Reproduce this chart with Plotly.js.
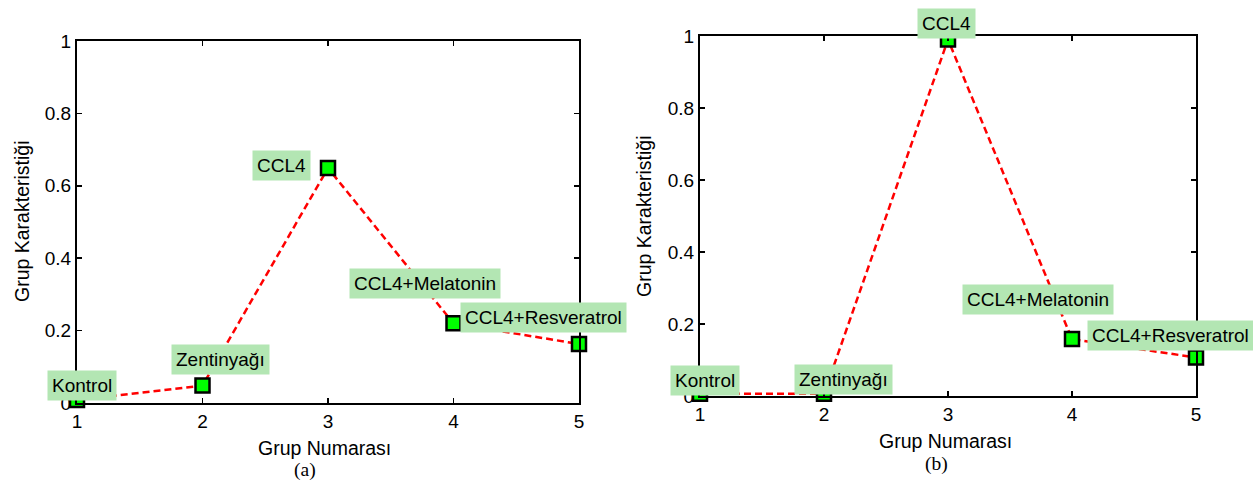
<!DOCTYPE html>
<html>
<head>
<meta charset="utf-8">
<script src="https://cdn.plot.ly/plotly-3.0.1.min.js"></script>
<style>html,body{margin:0;padding:0;background:#fff;}#chart{width:1253px;height:483px;}</style>
</head>
<body>
<div id="chart"></div>
<script>
// ---- data ----
const groups = [1, 2, 3, 4, 5];
const groupLabels = ['Kontrol', 'Zentinyağı', 'CCL4', 'CCL4+Melatonin', 'CCL4+Resveratrol'];
const valuesA = [0.008, 0.048, 0.649, 0.220, 0.163];
const valuesB = [0.006, 0.006, 0.99, 0.158, 0.107];
const xTickVals = [1, 2, 3, 4, 5];
const xTickText = ['1', '2', '3', '4', '5'];
const yTickVals = [0, 0.2, 0.4, 0.6, 0.8, 1];
const yTickText = ['0', '0.2', '0.4', '0.6', '0.8', '1'];
const xTitle = 'Grup Numarası';
const yTitle = 'Grup Karakteristiği';
const panelTitles = ['(a)', '(b)'];

// ---- style ----
const W = 1253, H = 483;
const FONT = 'Liberation Sans, Arial, sans-serif';
const labelShiftA = [[5, 15], [18, 26], [-47, 2.5], [-29, 40], [-36, 26.5]];
const labelShiftB = [[5, 13], [19.5, 14.7], [-2, 16], [-34, 40], [-26, 22]];

function px(x) { return x / W; }
function py(y) { return 1 - y / H; }

function mkTrace(vals, xa, ya) {
  return {
    x: groups, y: vals, xaxis: xa, yaxis: ya,
    type: 'scatter', mode: 'lines+markers', cliponaxis: false,
    line: {color: '#ff0000', width: 2.5, dash: '7px,4px'},
    marker: {symbol: 'square', size: 14, color: '#00ff00', line: {color: '#000', width: 2.5}},
    hoverinfo: 'skip'
  };
}

function mkAxis(domain, isX, anchor) {
  const ax = {
    domain: domain, anchor: anchor,
    showline: true, linecolor: '#000', linewidth: 2, mirror: 'ticks',
    ticks: 'inside', ticklen: 5, tickwidth: 1.5, tickcolor: '#000',
    showgrid: false, zeroline: false, fixedrange: true,
    tickfont: {family: FONT, size: 19, color: '#000'}
  };
  if (isX) {
    ax.range = [1, 5]; ax.tickmode = 'array'; ax.tickvals = xTickVals; ax.ticktext = xTickText;
  } else {
    ax.range = [0, 1]; ax.tickmode = 'array'; ax.tickvals = yTickVals; ax.ticktext = yTickText;
  }
  return ax;
}

const annotations = [];
function addLabels(vals, shifts, xr, yr) {
  groups.forEach((g, i) => {
    annotations.push({
      x: g, y: vals[i], xref: xr, yref: yr, showarrow: false,
      xanchor: 'center', yanchor: 'middle',
      xshift: shifts[i][0], yshift: shifts[i][1],
      text: groupLabels[i], bgcolor: '#b3e6b3', borderpad: 4,
      font: {family: FONT, size: 19, color: '#000'}
    });
  });
}
addLabels(valuesA, labelShiftA, 'x', 'y');
addLabels(valuesB, labelShiftB, 'x2', 'y2');

function addText(text, x, y, opts) {
  annotations.push(Object.assign({
    text: text, x: px(x), y: py(y), xref: 'paper', yref: 'paper', showarrow: false,
    xanchor: 'center', yanchor: 'middle',
    font: {family: FONT, size: 19.5, color: '#000'}
  }, opts || {}));
}
addText(xTitle, 324.5, 448);
addText(xTitle, 945, 441);
addText(yTitle, 22, 222, {textangle: -90});
addText(yTitle, 644, 217, {textangle: -90});
addText(panelTitles[0], 305, 470, {font: {family: 'Liberation Serif, Times New Roman, serif', size: 19.5, color: '#000'}});
addText(panelTitles[1], 936.5, 464, {font: {family: 'Liberation Serif, Times New Roman, serif', size: 19.5, color: '#000'}});

const layout = {
  width: W, height: H,
  margin: {l: 0, r: 0, t: 0, b: 0},
  paper_bgcolor: '#fff', plot_bgcolor: '#fff',
  showlegend: false,
  xaxis: mkAxis([px(77), px(579)], true, 'y'),
  yaxis: mkAxis([py(403), py(41)], false, 'x'),
  xaxis2: mkAxis([px(700), px(1196)], true, 'y2'),
  yaxis2: mkAxis([py(396), py(36)], false, 'x2'),
  annotations: annotations
};

Plotly.newPlot('chart', [mkTrace(valuesA, 'x', 'y'), mkTrace(valuesB, 'x2', 'y2')], layout, {displayModeBar: false, staticPlot: true});
</script>
</body>
</html>
